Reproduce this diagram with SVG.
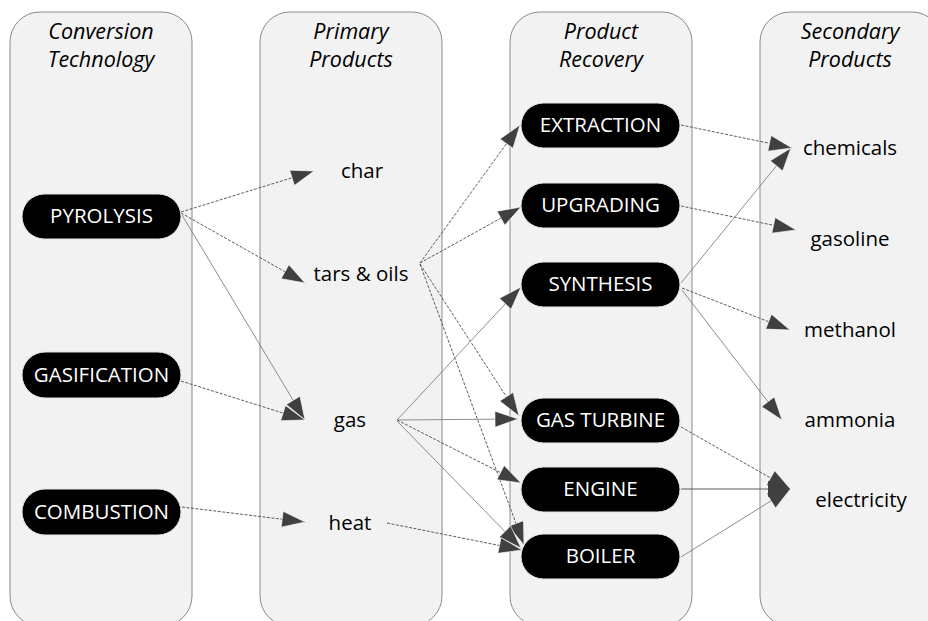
<svg xmlns="http://www.w3.org/2000/svg" width="928" height="621" viewBox="0 0 928 621">
<style>
.panel{fill:#f2f2f2;stroke:#8a8a8a;stroke-width:1}
.hdr{font-family:"Open Sans","Liberation Sans",sans-serif;font-style:italic;font-size:21.5px;fill:#000;text-anchor:middle}
.pill{fill:#000;stroke:#e6e6e6;stroke-width:1}
.ntxt{font-family:"Open Sans","Liberation Sans",sans-serif;font-size:20.5px;fill:#fff;text-anchor:middle}
.lbl{font-family:"Open Sans","Liberation Sans",sans-serif;font-size:20.5px;fill:#000;text-anchor:middle}
.e{fill:none;stroke:#4a4a4a;stroke-width:0.9;marker-end:url(#arr)}
.d{stroke-dasharray:3 1.5}
.s{stroke:#808080}
</style>
<defs>
<marker id="arr" markerUnits="userSpaceOnUse" viewBox="0 0 23 16" markerWidth="23" markerHeight="16" refX="23" refY="8" orient="auto" overflow="visible">
<path d="M0,0 L23,8 L0,16 Z" fill="#404040" stroke="#fff" stroke-width="0.6"/>
</marker>
<marker id="arr2" markerUnits="userSpaceOnUse" viewBox="0 0 22 16" markerWidth="22" markerHeight="16" refX="22" refY="8" orient="auto" overflow="visible">
<path d="M0,0 L22,8 L0,16 Z" fill="#404040"/>
</marker>
</defs>
<g id="panels">
<rect class="panel" x="10" y="12" width="182" height="614" rx="30"/>
<rect class="panel" x="260" y="12" width="182" height="614" rx="30"/>
<rect class="panel" x="510" y="12" width="182" height="614" rx="30"/>
<rect class="panel" x="760" y="12" width="182" height="614" rx="30"/>
<text class="hdr" x="101" y="39">Conversion</text>
<text class="hdr" x="101" y="67">Technology</text>
<text class="hdr" x="351" y="39">Primary</text>
<text class="hdr" x="351" y="67">Products</text>
<text class="hdr" x="601" y="39">Product</text>
<text class="hdr" x="601" y="67">Recovery</text>
<text class="hdr" x="850" y="39">Secondary</text>
<text class="hdr" x="850" y="67">Products</text>
</g>
<g id="connectors">
<path class="e d" d="M181,212 L314,171"/>
<path class="e d" d="M181,213 L305,283"/>
<path class="e s" d="M182,215 L305,420"/>
<path class="e d" d="M181,381 L305,420"/>
<path class="e d" d="M182,507 L305,522"/>
<path class="e d" d="M420,263 L520,125"/>
<path class="e d" d="M420,263 L521,207"/>
<path class="e d" d="M420,264 L519,416"/>
<path class="e d" d="M420,264 L524,545"/>
<path class="e s" d="M397,420 L521,287"/>
<path class="e s" d="M397,420 L518,419"/>
<path class="e d" d="M397,420 L521,483"/>
<path class="e s" d="M397,421 L521,548"/>
<path class="e d" d="M387,523 L522,550"/>
<path class="e d" d="M681,125 L792,148"/>
<path class="e d" d="M681,206 L796,230"/>
<path class="e s" d="M681,283 L791,148"/>
<path class="e d" d="M682,288 L790,330"/>
<path class="e s" d="M682,290 L782,420"/>
<path class="e d" d="M681,427 L790,489" style="marker-end:url(#arr2)"/>
<path class="e" d="M681,489 L790,489" style="marker-end:url(#arr2)"/>
<path class="e s" d="M681,557 L790,489" style="marker-end:url(#arr2)"/>
</g>
<g id="pyrolysis"><rect class="pill" x="22" y="194" width="159" height="45" rx="22.5"/><text class="ntxt" x="101.5" y="223">PYROLYSIS</text></g>
<g id="gasification"><rect class="pill" x="22" y="352" width="159" height="46" rx="23"/><text class="ntxt" x="101.5" y="382">GASIFICATION</text></g>
<g id="combustion"><rect class="pill" x="22" y="489" width="159" height="46" rx="23"/><text class="ntxt" x="101.5" y="519">COMBUSTION</text></g>
<g id="char"><text class="lbl" x="362" y="178">char</text></g>
<g id="tars"><text class="lbl" x="361" y="281">tars &amp; oils</text></g>
<g id="gas"><text class="lbl" x="350" y="427">gas</text></g>
<g id="heat"><text class="lbl" x="350" y="530">heat</text></g>
<g id="extraction"><rect class="pill" x="521" y="103" width="159" height="45" rx="22.5"/><text class="ntxt" x="600.5" y="132">EXTRACTION</text></g>
<g id="upgrading"><rect class="pill" x="521" y="183" width="159" height="45" rx="22.5"/><text class="ntxt" x="600.5" y="212">UPGRADING</text></g>
<g id="synthesis"><rect class="pill" x="521" y="262" width="159" height="45" rx="22.5"/><text class="ntxt" x="600.5" y="291">SYNTHESIS</text></g>
<g id="gasturbine"><rect class="pill" x="521" y="398" width="159" height="45" rx="22.5"/><text class="ntxt" x="600.5" y="427">GAS TURBINE</text></g>
<g id="engine"><rect class="pill" x="521" y="467" width="159" height="45" rx="22.5"/><text class="ntxt" x="600.5" y="496">ENGINE</text></g>
<g id="boiler"><rect class="pill" x="521" y="534" width="159" height="45" rx="22.5"/><text class="ntxt" x="600.5" y="563">BOILER</text></g>
<g id="chemicals"><text class="lbl" x="850" y="155">chemicals</text></g>
<g id="gasoline"><text class="lbl" x="850" y="246">gasoline</text></g>
<g id="methanol"><text class="lbl" x="850" y="337">methanol</text></g>
<g id="ammonia"><text class="lbl" x="850" y="427">ammonia</text></g>
<g id="electricity"><text class="lbl" x="861" y="507">electricity</text></g>
</svg>
